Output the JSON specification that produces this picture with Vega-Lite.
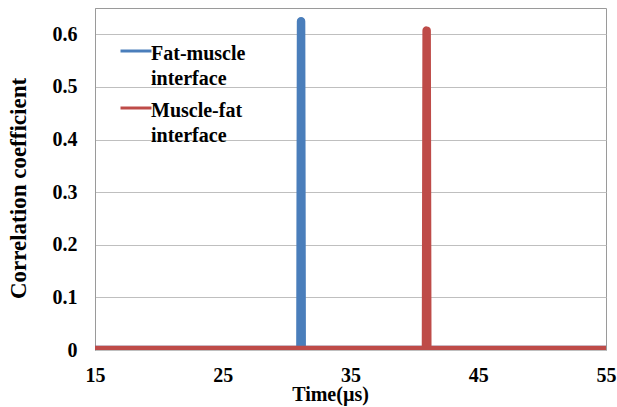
{
  "$schema": "https://vega.github.io/schema/vega-lite/v6.json",
  "width": 511,
  "height": 342,
  "autosize": {"type": "none"},
  "padding": {"left": 95, "top": 8, "right": 11, "bottom": 57},
  "background": "white",
  "config": {
    "view": {"stroke": "#9a9a9a", "strokeWidth": 1},
    "font": "'Liberation Serif', 'Times New Roman', 'DejaVu Serif', serif",
    "axis": {"labelFont": "'Liberation Serif', 'Times New Roman', 'DejaVu Serif', serif", "titleFont": "'Liberation Serif', 'Times New Roman', 'DejaVu Serif', serif"},
    "legend": {"labelFont": "'Liberation Serif', 'Times New Roman', 'DejaVu Serif', serif"}
  },
  "data": {
    "values": [
      {"series": "Fat-muscle interface", "time": 15, "r": 0},
      {"series": "Fat-muscle interface", "time": 31.08, "r": 0},
      {"series": "Fat-muscle interface", "time": 31.13, "r": 0.625},
      {"series": "Fat-muscle interface", "time": 31.18, "r": 0},
      {"series": "Fat-muscle interface", "time": 55, "r": 0},
      {"series": "Muscle-fat interface", "time": 15, "r": 0},
      {"series": "Muscle-fat interface", "time": 40.91, "r": 0},
      {"series": "Muscle-fat interface", "time": 40.96, "r": 0.607},
      {"series": "Muscle-fat interface", "time": 41.01, "r": 0},
      {"series": "Muscle-fat interface", "time": 55, "r": 0}
    ]
  },
  "mark": {"type": "line", "strokeWidth": 8.5, "strokeJoin": "round", "strokeCap": "butt", "clip": true},
  "encoding": {
    "x": {
      "field": "time", "type": "quantitative",
      "scale": {"domain": [15, 55], "nice": false, "zero": false},
      "axis": {
        "title": "Time(µs)", "values": [15, 25, 35, 45, 55], "grid": false, "ticks": false,
        "domain": false, "labelFontWeight": "bold", "labelFontSize": 20,
        "labelColor": "black", "labelPadding": 15, "labelBaseline": "top", "labelFlush": false, "labelOverlap": false,
        "titleFontWeight": "bold", "titleFontSize": 20, "titleColor": "black",
        "titleX": 235, "titleY": 50, "titleBaseline": "alphabetic", "titleAlign": "center", "titleAnchor": null
      }
    },
    "y": {
      "field": "r", "type": "quantitative",
      "scale": {"domain": [0, 0.65], "nice": false},
      "axis": {
        "title": "Correlation  coefficient", "values": [0, 0.1, 0.2, 0.3, 0.4, 0.5, 0.6], "format": "~g",
        "grid": true, "gridColor": "#bfbfbf", "gridWidth": 1, "ticks": false,
        "domain": true, "domainColor": "#9a9a9a", "labelFontWeight": "bold",
        "labelFontSize": 20, "labelColor": "black", "labelPadding": 18, "labelOverlap": false, "labelFlush": false,
        "titleFontWeight": "bold", "titleFontSize": 23, "titleColor": "black",
        "titleX": -77, "titleY": 180, "titleAngle": -90, "titleBaseline": "middle", "titleAlign": "center", "titleAnchor": null
      }
    },
    "color": {
      "field": "series", "type": "nominal",
      "scale": {"domain": ["Fat-muscle interface", "Muscle-fat interface"], "range": ["#4a7ebb", "#be4b48"]},
      "legend": {
        "title": null, "orient": "none", "legendX": 24, "legendY": 26, "padding": 0,
        "symbolType": "stroke", "symbolSize": 961, "symbolStrokeWidth": 3,
        "labelFontWeight": "bold", "labelFontSize": 20, "labelColor": "black",
        "labelBaseline": "top", "labelOffset": -2, "labelLimit": 0,
        "labelExpr": "split(datum.label, ' ')", "rowPadding": 2,
        "encode": {"labels": {"update": {"dy": {"value": -7}, "lineHeight": {"value": 25}}}}
      }
    }
  }
}
